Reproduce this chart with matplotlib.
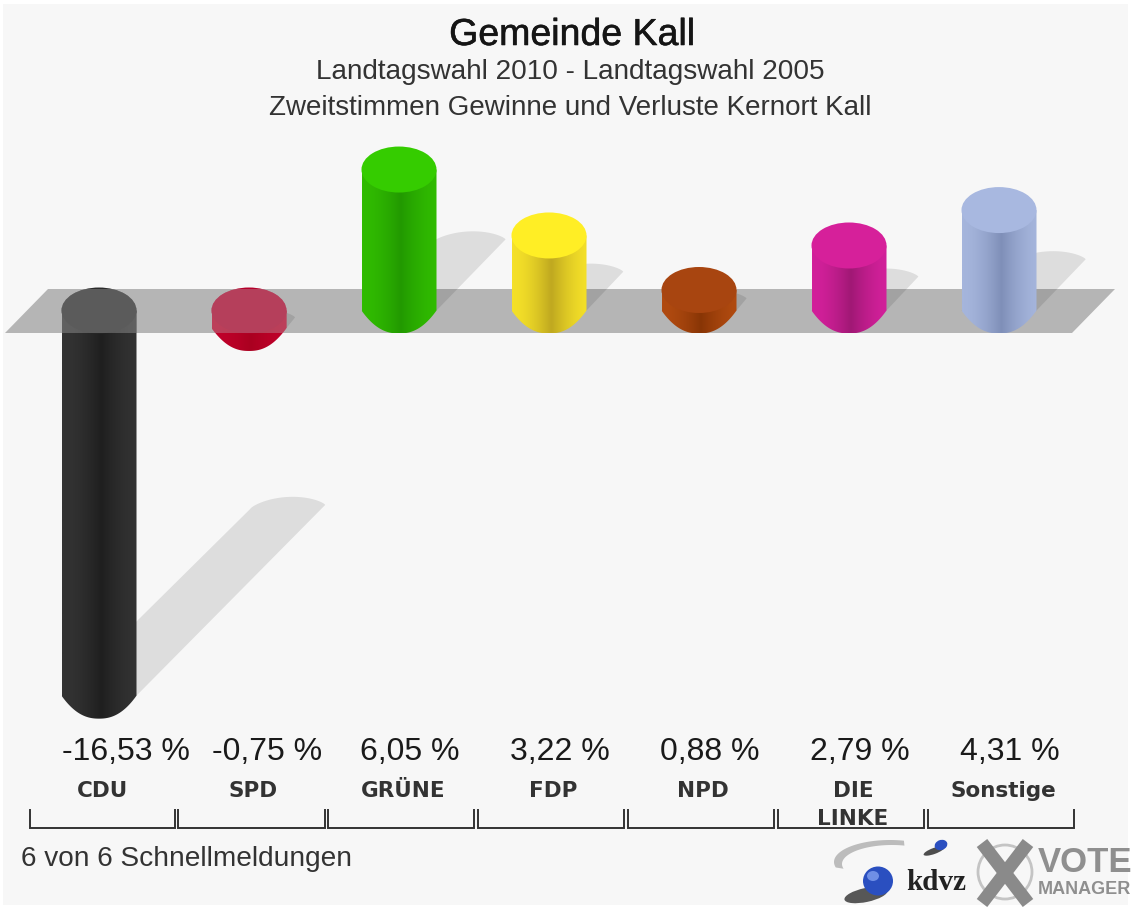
import numpy as np
import matplotlib
matplotlib.use("Agg")
import matplotlib.pyplot as plt
import matplotlib.patheffects as pe
from matplotlib.patches import Ellipse, PathPatch, Polygon, Rectangle
from matplotlib.path import Path

plt.rcParams['font.family'] = ['Liberation Sans', 'DejaVu Sans']

# values
parties = ['CDU', 'SPD', 'GRÜNE', 'FDP', 'NPD', 'DIE\nLINKE', 'Sonstige']
changes = [-16.53, -0.75, 6.05, 3.22, 0.88, 2.79, 4.31]
top_colors = ['#2b2b2b', '#b4002a', '#35cc00', '#ffee25', '#a84510', '#d6209a', '#a8b8e0']
edge_colors = ['#333333', '#c0002a', '#30bb00', '#f4e028', '#b04a10', '#d2209a', '#a5b5dc']
mid_colors = ['#1f1f1f', '#aa0020', '#229900', '#bfa820', '#883505', '#a01875', '#7f8fb8']

title = 'Gemeinde Kall'
subtitle_1 = 'Landtagswahl 2010 - Landtagswahl 2005'
subtitle_2 = 'Zweitstimmen Gewinne und Verluste Kernort Kall'
footer = '6 von 6 Schnellmeldungen'

W, H = 1131, 909
PX_X = 150.0   # pixels per category
PX_Y = 23.3    # pixels per percentage point
X0, Y0 = 99.0, 310.5   # pixel of first category / of zero

HALF_W = 37.5 / PX_X
CAP_H = 23.0 / PX_Y

# right end of each value label relative to the bar centre
label_right = [91, 73, 61, 61, 61, 61, 61]

fig = plt.figure(figsize=(W / 100, H / 100), dpi=100, facecolor='white')
ax = fig.add_axes([0, 0, 1, 1])
ax.axis('off')
xlim = (-X0 / PX_X, (W - X0) / PX_X)
ylim = ((Y0 - H) / PX_Y, Y0 / PX_Y)

ax.add_patch(Rectangle((0.003, 0.004), 0.994, 0.992, transform=ax.transAxes,
                       facecolor='#f7f7f7', edgecolor='none', zorder=0))


def floor_points():
    bottom, top = (Y0 - 333) / PX_Y, (Y0 - 289) / PX_Y
    left = (5 - X0) / PX_X
    right = (1072 - X0) / PX_X
    shift = 43 / PX_X
    return [(left, bottom), (left + shift, top), (right + shift, top), (right, bottom)]


def body_path(x, y_top, y_bottom, with_top_cap=False):
    # bottom end is a bit pointed, with a visible corner at both sides
    u = np.linspace(-1, 1, 60)
    xs = x + HALF_W * u
    ys = y_bottom - CAP_H * (1 - np.abs(u) ** 2.3)
    if with_top_cap:
        t2 = np.linspace(0, np.pi, 40)
        xs = np.r_[xs, x + HALF_W * np.cos(t2)]
        ys = np.r_[ys, y_top + CAP_H * np.sin(t2)]
    else:
        xs = np.r_[xs, x + HALF_W, x - HALF_W]
        ys = np.r_[ys, y_top, y_top]
    return Path(np.c_[xs, ys], closed=False)


def draw_shadow(x, value):
    base_y = min(0, value)
    reach = abs(value) * 0.49
    off_x = reach * PX_Y / PX_X
    end_x, end_y = x + off_x, base_y + reach
    t = np.linspace(0, np.pi, 30)
    cap_x = end_x + HALF_W * np.cos(t)
    cap_y = end_y + (10 * np.sin(t) ** 1.5 + 2 * np.cos(t)) / PX_Y
    pts = [(x + HALF_W, base_y)] + list(zip(cap_x, cap_y)) + [(x - HALF_W, base_y)]
    ax.add_patch(Polygon(pts, closed=True, facecolor='black', edgecolor='none',
                         alpha=0.1, zorder=1.5))


def gradient_colors(edge, mid):
    e = np.array(matplotlib.colors.to_rgb(edge))
    m = np.array(matplotlib.colors.to_rgb(mid))
    u = np.linspace(0, 1, 75)
    w = np.clip(1 - np.abs(u - 0.52) / 0.5, 0, 1) ** 1.6
    return (e[None, :] * (1 - w[:, None]) + m[None, :] * w[:, None])[None, :, :]


# floor band
ax.add_patch(Polygon(floor_points(), closed=True, facecolor='#b5b5b5', edgecolor='none', zorder=1))

for i, v in enumerate(changes):
    draw_shadow(i, v)
    hi, lo = max(v, 0), min(v, 0)
    z = 6 if v > 0 else 2
    clip = PathPatch(body_path(i, hi, lo), transform=ax.transData)
    im = ax.imshow(gradient_colors(edge_colors[i], mid_colors[i]), aspect='auto', zorder=z,
                   extent=(i - HALF_W, i + HALF_W, lo - CAP_H, hi + CAP_H),
                   interpolation='bilinear')
    im.set_clip_path(clip)
    top = Ellipse((i, hi), 2 * HALF_W, 2 * CAP_H, facecolor=top_colors[i], edgecolor='none',
                  zorder=z + 0.1)
    ax.add_patch(top)
    if v < 0:
        # the floor is see-through over bars hanging below it
        veil = Polygon(floor_points(), closed=True, facecolor='#b7b7b7', edgecolor='none',
                       alpha=0.35, zorder=3)
        ax.add_patch(veil)
        veil.set_clip_path(PathPatch(body_path(i, hi, lo, with_top_cap=True), transform=ax.transData))

ax.set_xlim(*xlim)
ax.set_ylim(*ylim)

# everything around the bars, in pixel coordinates
px = fig.add_axes([0, 0, 1, 1], facecolor='none')
px.set_xlim(0, W)
px.set_ylim(H, 0)
px.axis('off')

px.text(572, 35, title, ha='center', va='center', fontsize=27, color='#151515',
        path_effects=[pe.withStroke(linewidth=0.4, foreground='#151515')])
px.text(570, 72, subtitle_1, ha='center', va='center', fontsize=20.1, color='#333333')
px.text(570, 108, subtitle_2, ha='center', va='center', fontsize=20, color='#333333')

for i, (name, v) in enumerate(zip(parties, changes)):
    label = f'{v:.2f}'.replace('.', ',') + ' %'
    cx = X0 + PX_X * i
    px.text(cx + label_right[i], 752, label, ha='right', va='center', fontsize=23, color='#1a1a1a')
    px.text(cx + 4, 791 if '\n' not in name else 805, name, ha='center', va='center',
            fontsize=15.5, color='#333333', linespacing=1.45, fontweight='bold',
            family='DejaVu Sans')
    left = 30 if i == 0 else 28 + PX_X * i
    right = 175 + PX_X * i - (1 if i > 1 else 0)
    px.plot([left, left, right, right], [810, 828, 828, 810], color='#333333', lw=1.4,
            solid_joinstyle='miter')

px.text(21, 859, footer, ha='left', va='center', fontsize=20.2, color='#333333')

# kdvz logo
t = np.linspace(0.42 * np.pi, 1.08 * np.pi, 50)
arc_out_x = 890 + 56 * np.cos(t)
arc_out_y = 862 - 22 * np.sin(t)
arc_in_x = 892 + 50 * np.cos(t)
arc_in_y = 864 - 19 * np.sin(t)
px.add_patch(Polygon(np.r_[np.c_[arc_out_x, arc_out_y], np.c_[arc_in_x, arc_in_y][::-1]],
                     closed=True, facecolor='#bcbcbc', edgecolor='none'))
px.add_patch(Ellipse((866, 895), 44, 14, angle=-12, facecolor='#222222', edgecolor='none', alpha=0.75))
px.add_patch(Ellipse((878, 881), 30, 29, facecolor='#2a4fc0', edgecolor='none'))
px.add_patch(Ellipse((873, 876), 12, 10, facecolor='#6f8fe6', edgecolor='none'))
px.add_patch(Ellipse((934, 851), 22, 6, angle=-20, facecolor='#222222', edgecolor='none', alpha=0.8))
px.add_patch(Ellipse((941, 845), 13, 10, angle=-20, facecolor='#2a4fc0', edgecolor='none'))
px.text(936, 882, 'kdvz', ha='center', va='center', fontsize=21, fontweight='bold',
        family='Liberation Serif', color='#222222')

# vote manager logo
px.add_patch(Ellipse((1005, 872), 54, 54, facecolor='none', edgecolor='#c4c4c4', lw=2))
px.plot([982, 1028], [843, 903], color='#8a8a8a', lw=9.5, solid_capstyle='butt')
px.plot([1028, 982], [843, 903], color='#8a8a8a', lw=9.5, solid_capstyle='butt')
px.text(1038, 863, 'VOTE', ha='left', va='center', fontsize=25, fontweight='bold', color='#8f8f8f')
px.text(1038, 889, 'MANAGER', ha='left', va='center', fontsize=13, fontweight='bold', color='#8f8f8f')

fig.savefig('out.png', dpi=100, facecolor=fig.get_facecolor())
